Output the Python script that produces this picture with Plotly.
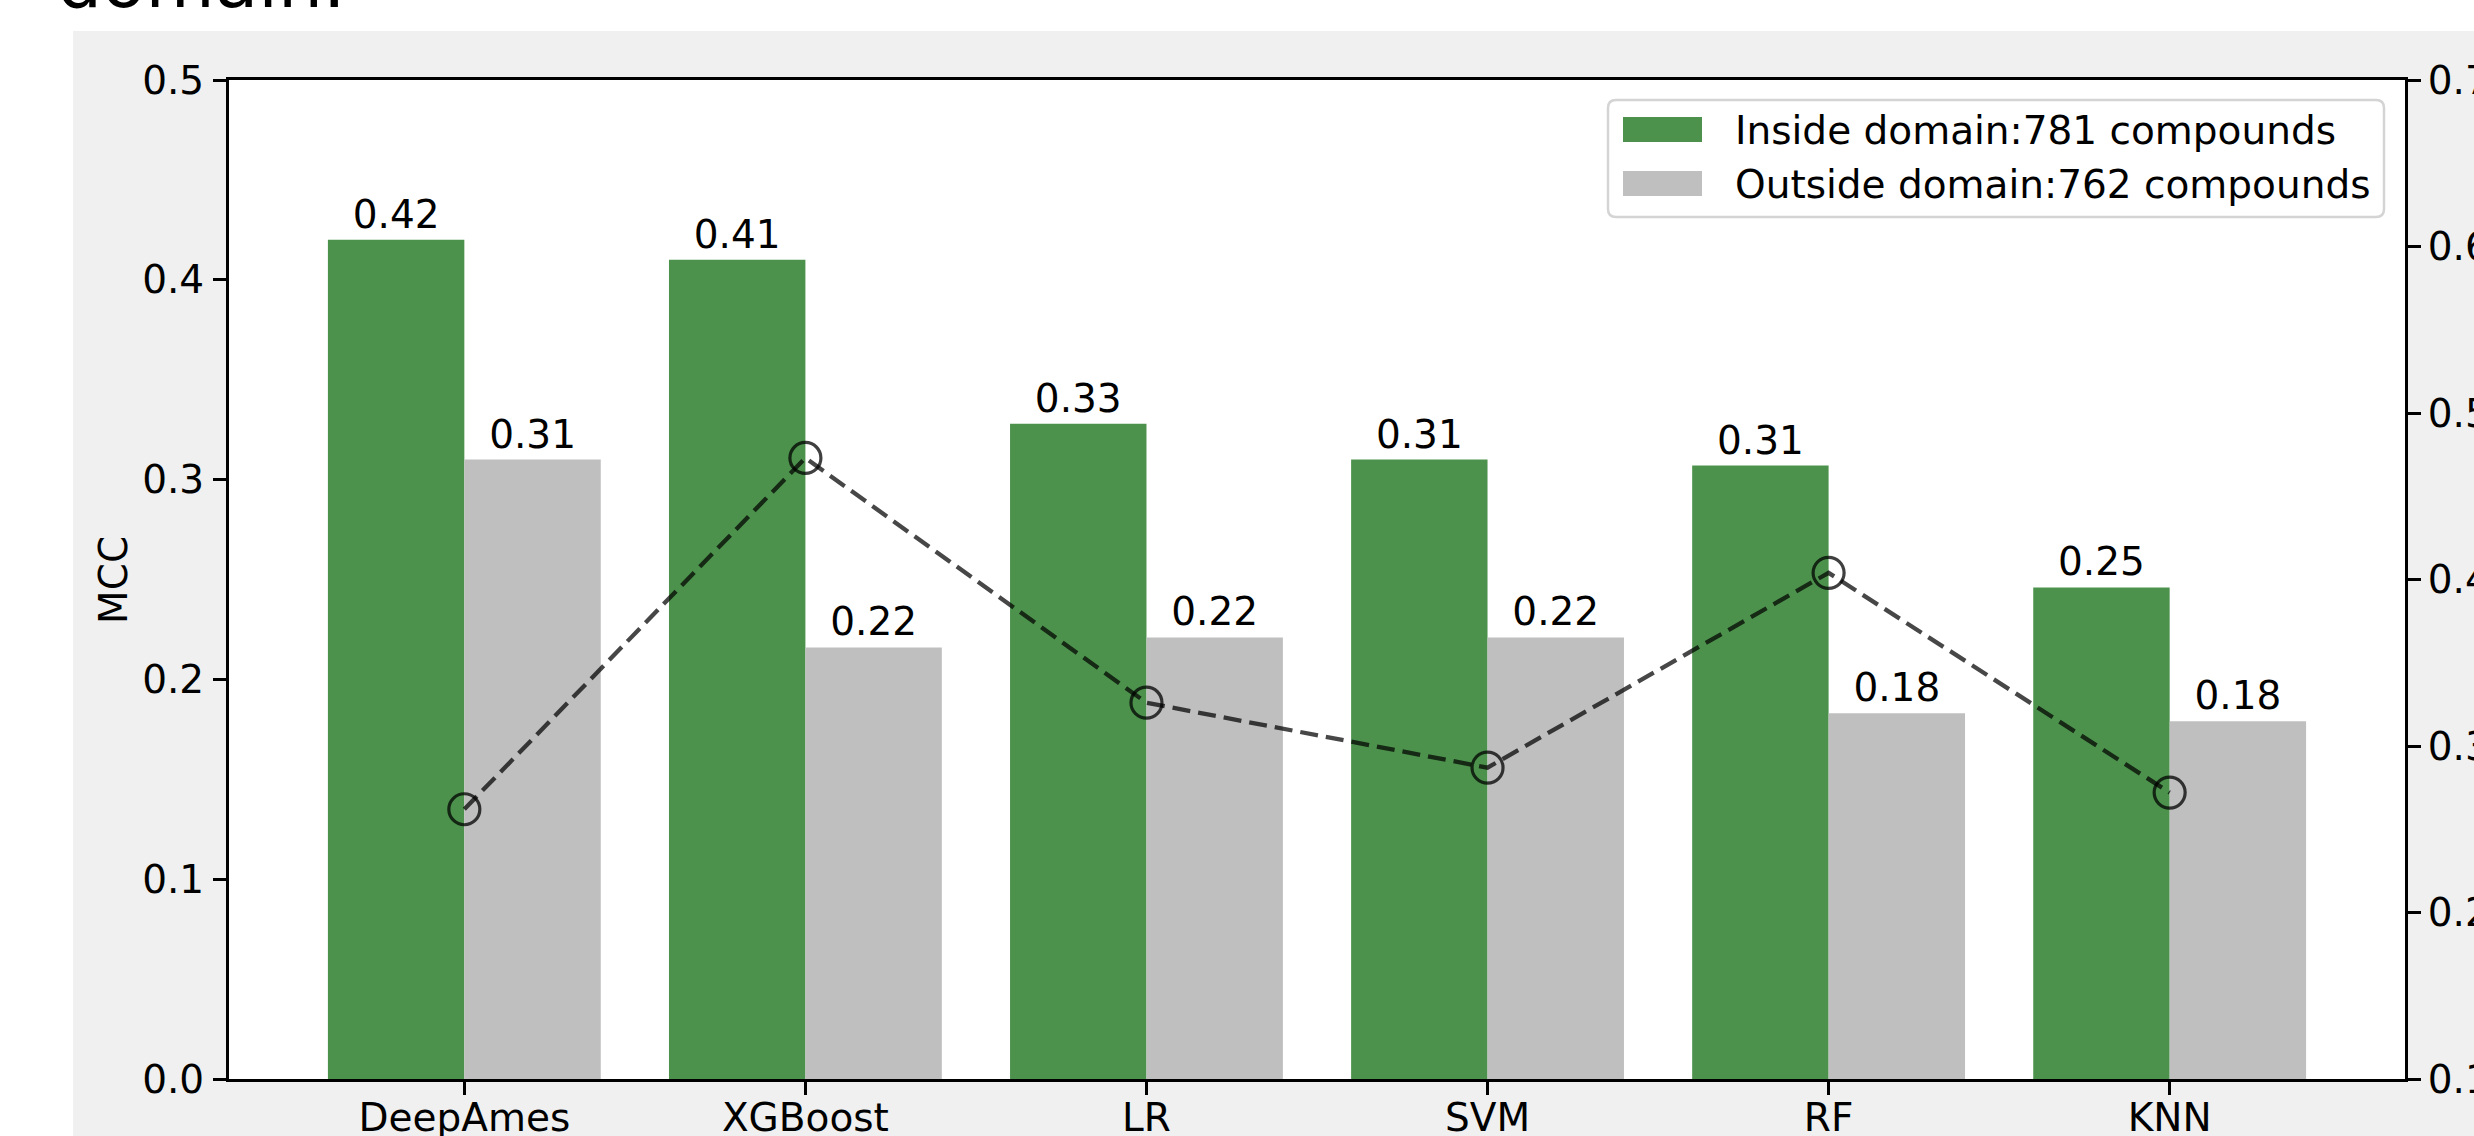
import plotly.graph_objects as go

# ---- data -------------------------------------------------------------
models = ["DeepAmes", "XGBoost", "LR", "SVM", "RF", "KNN"]
mcc_inside = [0.420, 0.410, 0.328, 0.310, 0.307, 0.246]
mcc_outside = [0.310, 0.216, 0.221, 0.221, 0.183, 0.179]
ratio_line = [0.262, 0.473, 0.326, 0.287, 0.404, 0.272]
left_ticks = [0.0, 0.1, 0.2, 0.3, 0.4, 0.5]
right_ticks = [0.1, 0.2, 0.3, 0.4, 0.5, 0.6, 0.7]
legend_labels = ["Inside domain:781 compounds", "Outside domain:762 compounds"]

# ---- styling ----------------------------------------------------------
W, H = 2474, 1136
ML, MR, MT, MB = 229, 69, 80, 57
PW, PH = W - ML - MR, H - MT - MB
FONT = "DejaVu Sans"
FS = 39
GREEN = "#4c924c"
GREY = "#bfbfbf"
FIG_BG = "#f0f0f0"


def xp(px):
    return (px - ML) / PW


def yp(py):
    return (H - MB - py) / PH


x_pos = list(range(len(models)))

fig = go.Figure()
fig.add_trace(go.Bar(
    x=x_pos, y=mcc_inside, name=legend_labels[0],
    marker=dict(color=GREEN, line=dict(width=0)),
    text=[f"{v:.2f}" for v in mcc_inside], textposition="outside",
    textfont=dict(family=FONT, size=FS, color="black"),
    constraintext="none", cliponaxis=False, showlegend=False,
))
fig.add_trace(go.Bar(
    x=x_pos, y=mcc_outside, name=legend_labels[1],
    marker=dict(color=GREY, line=dict(width=0)),
    text=[f"{v:.2f}" for v in mcc_outside], textposition="outside",
    textfont=dict(family=FONT, size=FS, color="black"),
    constraintext="none", cliponaxis=False, showlegend=False,
))
fig.add_trace(go.Scatter(
    x=x_pos, y=ratio_line, yaxis="y2", mode="lines+markers",
    line=dict(color="rgba(0,0,0,0.72)", width=4.3, dash="18px,8px"),
    marker=dict(symbol="circle-open", size=31, color="rgba(0,0,0,0.75)",
                line=dict(width=3.2)),
    showlegend=False, cliponaxis=False,
))

axis_common = dict(
    showline=True, linecolor="black", linewidth=3,
    ticks="outside", ticklen=13, tickwidth=3, tickcolor="black",
    showgrid=False, zeroline=False, automargin=False,
    tickfont=dict(family=FONT, size=FS, color="black"),
)

shapes = [
    # white page around the figure canvas
    dict(type="rect", xref="paper", yref="paper", layer="below",
         x0=xp(0), x1=xp(73), y0=yp(H), y1=yp(0),
         fillcolor="white", line=dict(width=0)),
    dict(type="rect", xref="paper", yref="paper", layer="below",
         x0=xp(0), x1=xp(W), y0=yp(31), y1=yp(0),
         fillcolor="white", line=dict(width=0)),
]


def rounded_box(x0, y0, x1, y1, r):
    rx, ry = r / PW, r / PH
    X0, X1, Y0, Y1 = xp(x0), xp(x1), yp(y1), yp(y0)
    return (f"M{X0 + rx},{Y1} L{X1 - rx},{Y1} Q{X1},{Y1} {X1},{Y1 - ry} "
            f"L{X1},{Y0 + ry} Q{X1},{Y0} {X1 - rx},{Y0} L{X0 + rx},{Y0} "
            f"Q{X0},{Y0} {X0},{Y0 + ry} L{X0},{Y1 - ry} Q{X0},{Y1} {X0 + rx},{Y1} Z")


# legend frame and swatches
shapes.append(dict(type="path", xref="paper", yref="paper", layer="above",
                   path=rounded_box(1608, 100, 2384, 217, 8),
                   fillcolor="rgba(255,255,255,0.8)",
                   line=dict(color="#d4d4d4", width=2.5)))
swatch_colors = [GREEN, GREY]
swatch_rows = [(117, 142), (171, 196)]
annotations = []
for col, (t, b), label in zip(swatch_colors, swatch_rows, legend_labels):
    shapes.append(dict(type="rect", xref="paper", yref="paper", layer="above",
                       x0=xp(1623), x1=xp(1702), y0=yp(b), y1=yp(t),
                       fillcolor=col, line=dict(width=0)))
    annotations.append(dict(xref="paper", yref="paper", x=xp(1733),
                            y=yp((t + b) / 2 + 1), xanchor="left",
                            yanchor="middle", showarrow=False, text=label,
                            font=dict(family=FONT, size=FS, color="black")))

annotations.append(dict(xref="paper", yref="paper", x=xp(113), y=yp(580),
                        xanchor="center", yanchor="middle", textangle=-90,
                        showarrow=False, text="MCC",
                        font=dict(family=FONT, size=FS, color="black")))
annotations.append(dict(xref="paper", yref="paper", x=xp(55), y=yp(26),
                        xanchor="left", yanchor="bottom", showarrow=False,
                        text="domain.",
                        font=dict(family=FONT, size=71, color="black")))

fig.update_layout(
    width=W, height=H, autosize=False,
    margin=dict(l=ML, r=MR, t=MT, b=MB, pad=0, autoexpand=False),
    paper_bgcolor=FIG_BG, plot_bgcolor="white",
    font=dict(family=FONT, size=FS, color="black"),
    barmode="group", bargap=0.2, bargroupgap=0,
    xaxis=dict(range=[-0.69, 5.69], tickvals=x_pos, ticktext=models,
               mirror=True, ticklabelstandoff=-11, **axis_common),
    yaxis=dict(range=[0, 0.5], tickvals=left_ticks, tickformat=".1f",
               ticklabelstandoff=1, **axis_common),
    yaxis2=dict(range=[0.1, 0.7], tickvals=right_ticks, tickformat=".1f",
                overlaying="y", side="right", ticklabelstandoff=-1,
                **axis_common),
    shapes=shapes, annotations=annotations,
)

fig.write_html("out.html")
